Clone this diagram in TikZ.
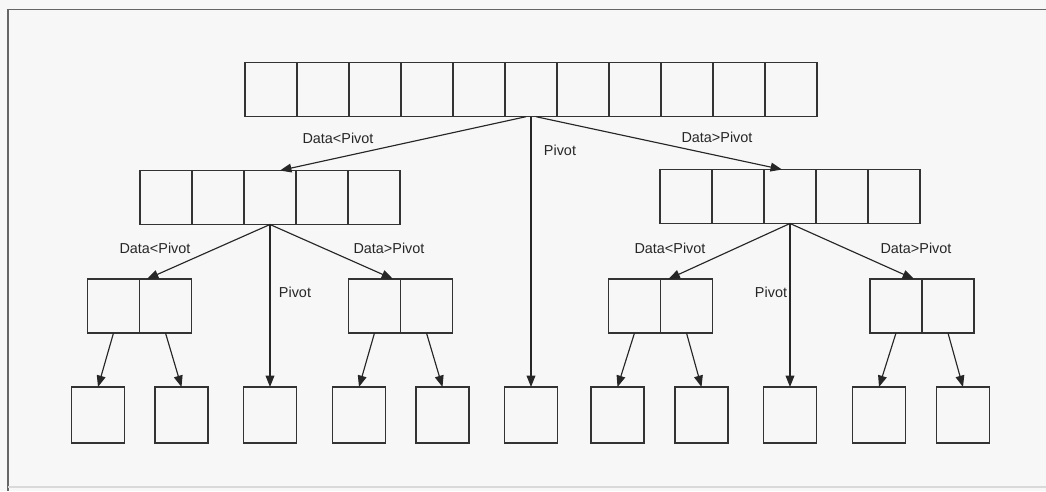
\documentclass[tikz,border=0pt]{standalone}
\usepackage{fontspec}
\setmainfont{Liberation Sans}
\usetikzlibrary{arrows.meta,positioning,calc}

\begin{document}
\begin{tikzpicture}[x=0.02cm,y=-0.02cm,
  cell/.style={draw=black!80, line width=0.85pt, minimum width=1.04cm, minimum height=1.08cm, inner sep=0pt, outer sep=0pt},
  leaf/.style={cell, minimum width=1.06cm, minimum height=1.12cm},
  lbl/.style={font=\fontsize{8.2}{10}\selectfont, text=black!85, inner sep=1pt},
  arr/.style={-{Triangle[length=6.5pt,width=5pt]}, line width=0.65pt, draw=black!85}]

% Canvas and frame
\useasboundingbox[fill=black!3] (0,0) rectangle (1046,491);
\draw[black!60, line width=1pt] (1046,9.5) -- (8,9.5) -- (8,491);
\draw[black!15, line width=0.8pt] (8,487) -- (1046,487);

% Top array
\foreach \i in {1,...,11}
  \node[cell] (top\i) at ({245+52*(\i-0.5)},89.7) {};

% Second level
\foreach \i in {1,...,5} {
  \node[cell] (lft\i) at ({140+52*(\i-0.5)},197.5) {};
  \node[cell] (rgt\i) at ({660+52*(\i-0.5)},196.5) {};
}

% Third level pairs
\foreach \n/\x in {ll/87.5, lr/348.5, rl/608.5, rr/870} {
  \node[cell] (\n1) at ({\x+26},306) {};
  \node[cell] (\n2) at ({\x+78},306) {};
}

% Leaves
\foreach \i/\x in {1/98, 2/181.5, 3/270, 4/359, 5/442.5, 6/531, 7/617.5, 8/701.5, 9/790, 10/879, 11/963}
  \node[leaf] (leaf\i) at (\x,415) {};

% Split of the top array
\draw[arr] ([xshift=-0.1cm]top6.south) -- ([xshift=0.2cm]lft3.north);
\draw[arr] ([xshift=0.1cm]top6.south) -- ([xshift=-0.16cm]rgt3.north);
\draw[arr] (top6.south) -- (leaf6.north);
\node[lbl] (tlt) at (338,138) {Data<Pivot};
\node[lbl] (tpv) at (560,150) {Pivot};
\node[lbl] (tgt) at (717,137) {Data>Pivot};

% Split of the second level
\draw[arr] (lft3.south) -- ([xshift=0.15cm]ll1.north east);
\draw[arr] (lft3.south) -- ([xshift=-0.15cm]lr1.north east);
\draw[arr] (lft3.south) -- (leaf3.north);
\draw[arr] (rgt3.south) -- ([xshift=0.16cm]rl1.north east);
\draw[arr] (rgt3.south) -- ([xshift=-0.16cm]rr1.north east);
\draw[arr] (rgt3.south) -- (leaf9.north);
\node[lbl] (llt) at (155,248) {Data<Pivot};
\node[lbl] (lpv) at (295,292) {Pivot};
\node[lbl] (lgt) at (389,248) {Data>Pivot};
\node[lbl] (rlt) at (670,248) {Data<Pivot};
\node[lbl] (rpv) at (771,292) {Pivot};
\node[lbl] (rgt) at (916,248) {Data>Pivot};

% Pairs to leaves
\foreach \p/\a/\b in {ll/1/2, lr/4/5, rl/7/8, rr/10/11} {
  \draw[arr] (\p1.south) -- (leaf\a.north);
  \draw[arr] (\p2.south) -- (leaf\b.north);
}

\end{tikzpicture}
\end{document}
